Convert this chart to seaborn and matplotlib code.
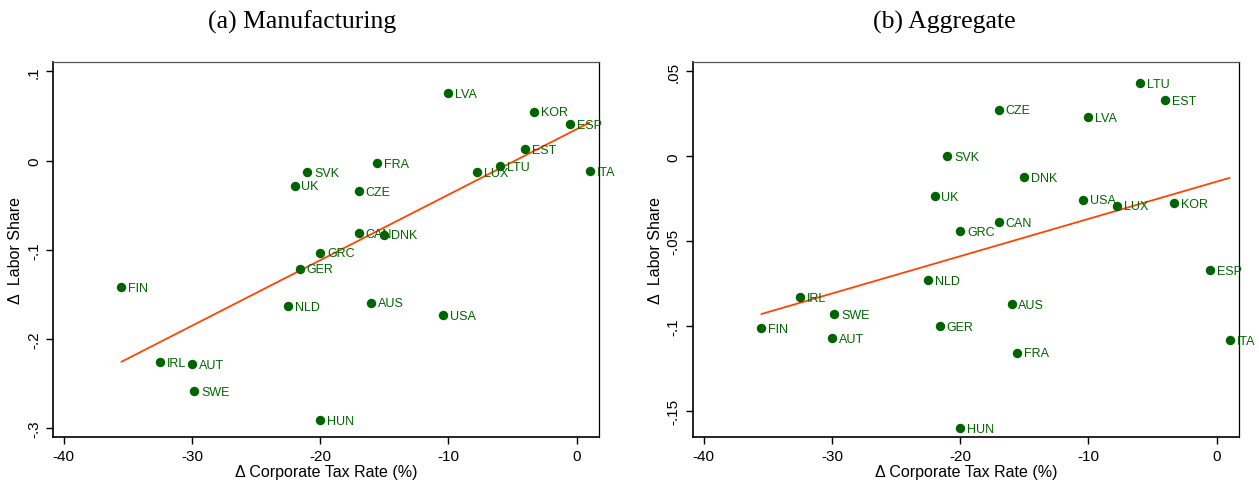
import matplotlib
matplotlib.use('Agg')
import matplotlib.pyplot as plt
import pandas as pd
import seaborn as sns

# Datos: cambio en la tasa de impuesto corporativo y cambio en la participacion laboral
countries = ['FIN', 'IRL', 'AUT', 'SWE', 'GER', 'NLD', 'GRC', 'AUS', 'USA', 'HUN', 'LVA', 'KOR',
             'ESP', 'EST', 'LTU', 'LUX', 'ITA', 'FRA', 'SVK', 'UK', 'CZE', 'CAN', 'DNK']
tax_change = [-35.5, -32.5, -30.0, -29.8, -21.6, -22.5, -20.0, -16.0, -10.4, -20.0, -10.0, -3.3,
              -0.5, -4.0, -6.0, -7.8, 1.0, -15.6, -21.0, -22.0, -17.0, -17.0, -15.0]
labor_manuf = [-0.142, -0.226, -0.228, -0.258, -0.121, -0.163, -0.103, -0.159, -0.173, -0.291, 0.076, 0.055,
               0.041, 0.013, -0.006, -0.013, -0.012, -0.003, -0.013, -0.028, -0.034, -0.081, -0.083]
labor_agg = [-0.101, -0.083, -0.107, -0.093, -0.100, -0.073, -0.044, -0.087, -0.0255, -0.160, 0.023, -0.0275,
             -0.067, 0.033, 0.043, -0.029, -0.108, -0.1155, 0.0, -0.0235, 0.0274, -0.0386, -0.0124]

x_ticks = [-40, -30, -20, -10, 0]
x_ticklabels = ['-40', '-30', '-20', '-10', '0']
y_ticks_manuf = [-0.3, -0.2, -0.1, 0, 0.1]
y_ticklabels_manuf = ['-.3', '-.2', '-.1', '0', '.1']
y_ticks_agg = [-0.15, -0.1, -0.05, 0, 0.05]
y_ticklabels_agg = ['-.15', '-.1', '-.05', '0', '.05']

df = pd.DataFrame({'country': countries, 'tax': tax_change,
                   'manuf': labor_manuf, 'agg': labor_agg})

sns.set_style('ticks')
plt.rcParams['font.family'] = ['Liberation Sans', 'DejaVu Sans']
plt.rcParams['text.color'] = 'black'
plt.rcParams['axes.labelcolor'] = 'black'
plt.rcParams['xtick.color'] = 'black'
plt.rcParams['ytick.color'] = 'black'

green = '#006400'
red = '#ff4500'

fig = plt.figure(figsize=(12.59, 4.85), dpi=100)
ax1 = fig.add_axes([0.0424, 0.0963, 0.4336, 0.7732])
ax2 = fig.add_axes([0.5507, 0.0963, 0.4337, 0.7732])

panels = [
    (ax1, 'manuf', y_ticks_manuf, y_ticklabels_manuf, (-0.310, 0.1103)),
    (ax2, 'agg', y_ticks_agg, y_ticklabels_agg, (-0.1653, 0.0553)),
]

for ax, col, yt, ytl, ylim in panels:
    # Recta de ajuste MCO, limitada al rango de los datos
    sns.regplot(x='tax', y=col, data=df, ax=ax, scatter=False, ci=None,
                line_kws={'color': red, 'lw': 1.3})
    sns.scatterplot(x='tax', y=col, data=df, ax=ax, color=green, s=46,
                    edgecolor=green, linewidth=0, zorder=3)
    # Etiquetas de paises a la derecha de cada punto
    for _, r in df.iterrows():
        ax.annotate(r['country'], (r['tax'], r[col]), xytext=(5, -0.5),
                    textcoords='offset points', va='center', ha='left',
                    fontsize=9, color=green, zorder=4)
    ax.set_xlim(-40.8, 1.76)
    ax.set_ylim(*ylim)
    ax.set_xticks(x_ticks)
    ax.set_xticklabels(x_ticklabels)
    ax.set_yticks(yt)
    ax.set_yticklabels(ytl, rotation=90, va='center')
    ax.tick_params(axis='both', length=5, width=1, labelsize=11, color='black')
    ax.tick_params(axis='x', pad=3.5)
    ax.tick_params(axis='y', pad=4)
    ax.set_xlabel('Δ Corporate Tax Rate (%)', fontsize=11.5)
    ax.set_ylabel('Δ  Labor Share', fontsize=11.5)
    ax.xaxis.set_label_coords(0.5, -0.071)
    ax.yaxis.set_label_coords(-0.056, 0.5)
    for side in ['left', 'bottom']:
        ax.spines[side].set_linewidth(1.2)
        ax.spines[side].set_color('black')
    ax.spines['top'].set_linewidth(0.9)
    ax.spines['top'].set_color('#555555')
    ax.spines['right'].set_linewidth(0.9)
    ax.spines['right'].set_color('black')

fig.text(0.240, 1 - 22 / 485, '(a) Manufacturing', ha='center', va='center',
         fontsize=18.5, family='Liberation Serif')
fig.text(0.750, 1 - 22 / 485, '(b) Aggregate', ha='center', va='center',
         fontsize=18.5, family='Liberation Serif')

fig.savefig('out.png', dpi=100)
